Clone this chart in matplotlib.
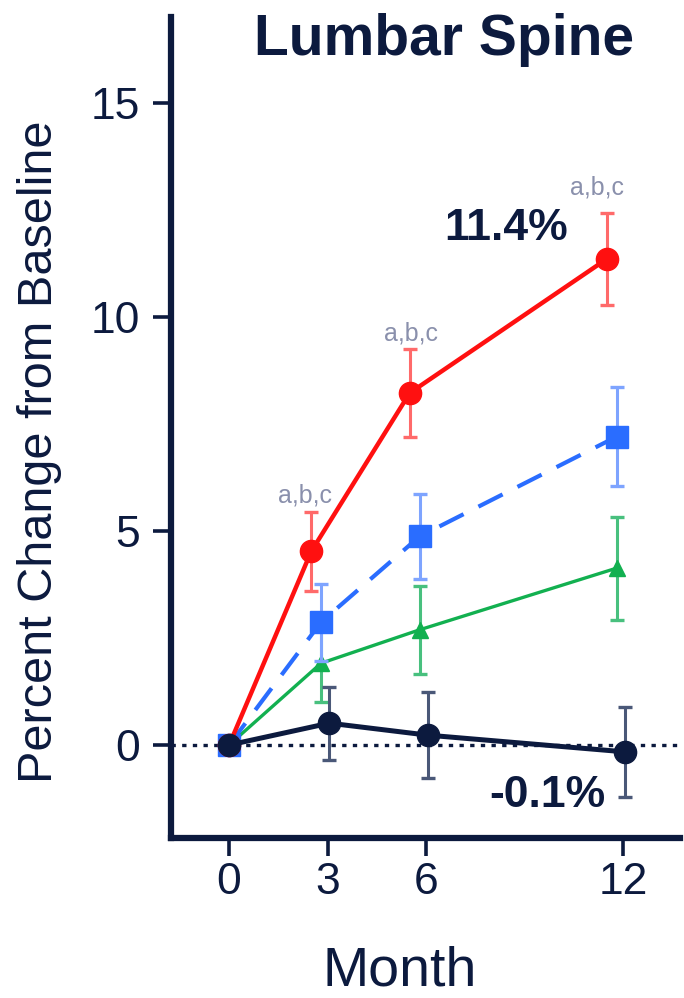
import matplotlib
matplotlib.use("Agg")
import matplotlib.pyplot as plt
from matplotlib import font_manager
import numpy as np

# ---------------- data ----------------
months = [0, 3, 6, 12]
xtick_labels = ["0", "3", "6", "12"]
yticks = [0, 5, 10, 15]

red_mean = [0.0, 4.52, 8.22, 11.35]
red_err = [0.0, 0.93, 1.03, 1.07]
blue_mean = [0.0, 2.87, 4.87, 7.20]
blue_err = [0.0, 0.90, 1.00, 1.15]
green_mean = [0.0, 1.91, 2.69, 4.13]
green_err = [0.0, 0.90, 1.03, 1.20]
black_mean = [0.0, 0.51, 0.23, -0.16]
black_err = [0.0, 0.85, 1.00, 1.05]

title = "Lumbar Spine"
xlabel = "Month"
ylabel = "Percent Change from Baseline"
label_red = "11.4%"
label_black = "-0.1%"
sig_label = "a,b,c"

# ---------------- style ----------------
NAVY = "#0c1a3e"
RED = "#ff1010"
BLUE = "#2a6dff"
GREEN = "#12b050"
SIG = "#8a90ac"
FONT = "Liberation Sans"

W, H = 684, 998
fig = plt.figure(figsize=(W / 100, H / 100), dpi=100)
ax = fig.add_axes([171 / W, 1 - 837.5 / H, (680 - 171) / W, (837.5 - 17) / H])


def fx(px):
    return px / W


def fy(py):
    return 1 - py / H


def dodge(vals, off):
    return [v + (off if v != 0 else 0) for v in vals]


# zero reference line
ax.axhline(0, color=NAVY, lw=2.4, linestyle=(0, (1.3, 1.9)), zorder=1, clip_on=False)

series = [
    (red_mean, red_err, RED, "#ff6a6a", "o", 16, -0.5, "-", 3.2, 5),
    (blue_mean, blue_err, BLUE, "#7ea4ff", "s", 16, -0.2, (0, (6.5, 4.0)), 3.0, 4),
    (green_mean, green_err, GREEN, "#48c07e", "^", 12, -0.2, "-", 2.4, 3),
    (black_mean, black_err, NAVY, "#4a5878", "o", 16, 0.05, "-", 3.6, 6),
]

for mean, err, col, ecol, mk, ms, off, ls, lw, z in series:
    x = dodge(months, off)
    ax.plot(x, mean, color=col, lw=lw, linestyle=ls, zorder=z)
    ax.errorbar(x[1:], mean[1:], yerr=err[1:], fmt="none", ecolor=ecol,
                elinewidth=2.2, capsize=5, capthick=2.4, zorder=z)
    ax.plot(x, mean, linestyle="none", marker=mk, markersize=ms,
            color=col, markeredgecolor=col, zorder=z + 0.5)

# axes styling
ax.set_xlim(-1.77, 13.73)
ax.set_ylim(-2.16, 17.0)
ax.set_xticks(months)
ax.set_xticklabels(xtick_labels)
ax.set_yticks(yticks)
ax.set_yticklabels([str(v) for v in yticks])
for s in ["top", "right"]:
    ax.spines[s].set_visible(False)
for s in ["left", "bottom"]:
    ax.spines[s].set_linewidth(4.5)
    ax.spines[s].set_color(NAVY)
    ax.spines[s].set_capstyle("projecting")
ax.tick_params(axis="both", length=13, width=2.6, color=NAVY, labelcolor=NAVY,
               labelsize=32)
ax.tick_params(axis="y", pad=9)
ax.tick_params(axis="x", pad=5)
for lab in ax.get_xticklabels() + ax.get_yticklabels():
    lab.set_family(FONT)

# titles and labels
fig.text(fx(444), fy(55), title, ha="center", va="baseline", fontsize=41,
         fontweight="bold", color=NAVY, family=FONT)
fig.text(fx(400), fy(986), xlabel, ha="center", va="baseline", fontsize=40,
         color=NAVY, family=FONT)

names = {f.name for f in font_manager.fontManager.ttflist}
if "Liberation Sans Narrow" in names:
    yl_family, yl_size = "Liberation Sans Narrow", 42.5
else:
    yl_family, yl_size = FONT, 35
fig.text(fx(52), fy(452), ylabel, rotation=90, rotation_mode="anchor",
         ha="center", va="baseline", fontsize=yl_size, color=NAVY, family=yl_family)

# annotations
fig.text(fx(506), fy(240), label_red, ha="center", va="baseline", fontsize=32,
         fontweight="bold", color=NAVY, family=FONT)
fig.text(fx(547), fy(807), label_black, ha="center", va="baseline", fontsize=32,
         fontweight="bold", color=NAVY, family=FONT)
for (px, py) in [(597, 195), (411, 340), (305, 503)]:
    fig.text(fx(px), fy(py), sig_label, ha="center", va="baseline", fontsize=18,
             color=SIG, family=FONT)

fig.savefig("out.png", dpi=100, facecolor="white")
